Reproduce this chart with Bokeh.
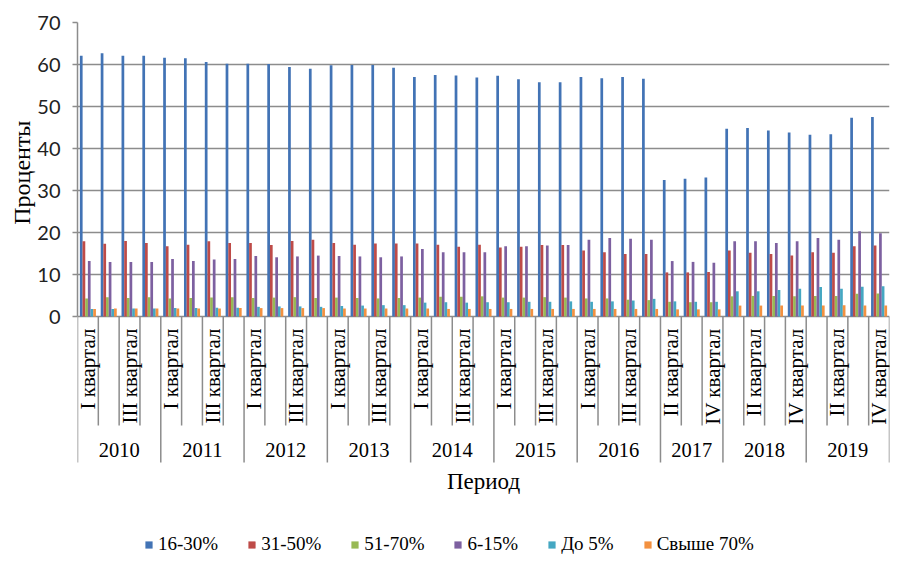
import math
from bokeh.plotting import figure
from bokeh.models import ColumnDataSource, Range1d, FixedTicker, Legend, LegendItem, Title
from bokeh.core.properties import value
from bokeh.transform import dodge
from bokeh.embed import file_html
from bokeh.resources import INLINE

# ---------------- data ----------------
years = ["2010", "2011", "2012", "2013", "2014", "2015", "2016", "2017", "2018", "2019"]
year_quarters = [
    ["I", "II", "III", "IV"], ["I", "II", "III", "IV"], ["I", "II", "III", "IV"],
    ["I", "II", "III", "IV"], ["I", "II", "III", "IV"], ["I", "II", "III", "IV"],
    ["I", "II", "III", "IV"], ["II", "III", "IV"], ["I", "II", "III", "IV"],
    ["I", "II", "III", "IV"],
]
quarter_word = "квартал"

series_names = ["16-30%", "31-50%", "51-70%", "6-15%", "До 5%", "Свыше 70%"]

s16_30 = [62.1, 62.7, 62.1, 62.1, 61.6, 61.5, 60.6, 60.2, 60.2, 60.1, 59.4, 59.0,
          59.8, 59.9, 59.9, 59.2, 57.0, 57.5, 57.4, 56.9, 57.3, 56.5, 55.8, 55.8,
          57.0, 56.7, 57.0, 56.6, 32.5, 32.8, 33.1, 44.7, 44.9, 44.3, 43.8,
          43.3, 43.4, 47.3, 47.5]
s31_50 = [17.9, 17.3, 18.0, 17.5, 16.7, 17.1, 17.9, 17.5, 17.5, 17.0, 18.0, 18.3,
          17.5, 17.1, 17.4, 17.4, 17.4, 17.1, 16.6, 17.1, 16.4, 16.6, 17.0, 17.0,
          15.7, 15.3, 14.9, 14.9, 10.5, 10.5, 10.6, 15.7, 15.2, 14.9, 14.5,
          15.3, 15.2, 16.7, 16.9]
s51_70 = [4.3, 4.6, 4.4, 4.6, 4.3, 4.4, 4.5, 4.6, 4.4, 4.5, 4.6, 4.4,
          4.5, 4.4, 4.3, 4.4, 4.5, 4.7, 4.7, 4.8, 4.5, 4.5, 4.6, 4.5,
          4.3, 4.3, 4.0, 3.9, 3.5, 3.4, 3.4, 4.8, 4.9, 4.9, 4.8,
          4.9, 4.9, 5.4, 5.5]
s6_15 = [13.2, 13.0, 13.0, 13.0, 13.7, 13.2, 13.6, 13.7, 14.4, 14.1, 14.3, 14.5,
         14.4, 14.3, 14.1, 14.3, 16.1, 15.3, 15.3, 15.3, 16.7, 16.7, 16.9, 17.0,
         18.3, 18.7, 18.5, 18.3, 13.2, 13.0, 12.8, 17.9, 17.9, 17.5, 17.9,
         18.7, 18.3, 20.3, 19.8]
s_upto5 = [1.8, 1.8, 1.9, 1.9, 2.0, 2.0, 2.1, 2.1, 2.3, 2.4, 2.4, 2.3,
           2.5, 2.6, 2.7, 2.7, 3.3, 3.4, 3.3, 3.4, 3.4, 3.5, 3.5, 3.6,
           3.5, 3.6, 3.8, 4.2, 3.6, 3.5, 3.5, 6.0, 6.0, 6.3, 6.6,
           7.0, 6.6, 7.1, 7.2]
s_over70 = [1.8, 1.9, 1.9, 1.9, 1.9, 1.9, 1.9, 2.0, 2.0, 2.0, 2.0, 2.0,
            1.9, 1.9, 1.9, 1.9, 1.9, 1.8, 1.8, 1.8, 1.8, 1.8, 1.8, 1.8,
            1.8, 1.8, 1.8, 1.8, 1.7, 1.7, 1.7, 2.6, 2.6, 2.6, 2.6,
            2.6, 2.7, 2.6, 2.6]

y_ticks = [0, 10, 20, 30, 40, 50, 60, 70]
y_title = "Проценты"
x_title = "Период"

# ---------------- styles ----------------
colors = ["#4273B5", "#BE4B48", "#98B954", "#7D60A0", "#45A7C2", "#F39140"]
grid_color = "#8C8C8C"
serif = value("Liberation Serif")

# ---------------- derived categories ----------------
cat_labels = []
for y, qs in zip(years, year_quarters):
    for q in qs:
        cat_labels.append(q + " " + quarter_word)
n = len(cat_labels)
centers = [i + 0.5 for i in range(n)]

src = ColumnDataSource(data=dict(
    x=centers, s1=s16_30, s2=s31_50, s3=s51_70, s4=s6_15, s5=s_upto5, s6=s_over70))

px_per_unit = 4.2
y_top = 70
frame_top = 22
frame_bottom = 556
y_bottom = y_top - (frame_bottom - frame_top) / px_per_unit
base = 316  # screen row of value 0 (for label offsets)

p = figure(width=890, height=frame_bottom,
           x_range=Range1d(0, n), y_range=Range1d(y_bottom, y_top),
           output_backend="svg", toolbar_location=None,
           x_axis_location=None,
           min_border_left=77, min_border_right=1,
           min_border_top=frame_top, min_border_bottom=0)
p.outline_line_color = None
p.background_fill_color = "white"
p.border_fill_color = "white"

# grid
p.ygrid.ticker = FixedTicker(ticks=y_ticks)
p.ygrid.grid_line_color = grid_color
p.ygrid.grid_line_width = 1.6
p.xgrid.grid_line_color = None

# y axis
p.yaxis.ticker = FixedTicker(ticks=y_ticks)
p.yaxis.bounds = (0, 70)
p.yaxis.axis_line_color = grid_color
p.yaxis.axis_line_width = 1.5
p.yaxis.major_tick_line_color = grid_color
p.yaxis.major_tick_line_width = 1.5
p.yaxis.major_tick_out = 5
p.yaxis.major_tick_in = 0
p.yaxis.minor_tick_line_color = None
p.yaxis.major_label_text_font = "Lato"
p.yaxis.major_label_text_font_size = "20px"
p.yaxis.major_label_text_color = "#222222"
p.yaxis.major_label_standoff = 12

# y title in the left panel, placed near the top of the 0..70 span
p.add_layout(Title(text=y_title, align="right", offset=98,
                   text_font="Liberation Serif", text_font_size="24px",
                   text_font_style="normal", text_color="black",
                   standoff=0), "left")

# bars
pitch = 0.128
cols = ["s1", "s2", "s3", "s4", "s5", "s6"]
renderers = []
for k, (c, col) in enumerate(zip(cols, colors)):
    r = p.vbar(x=dodge("x", (k - 2.5) * pitch, range=p.x_range), top=c, bottom=0,
               width=pitch * 1.02, source=src, fill_color=col, line_color=None)
    renderers.append(r)

# category axis lines (below zero)
year_bounds = [0]
for qs in year_quarters:
    year_bounds.append(year_bounds[-1] + len(qs))
quarter_bounds = [b for b in range(n + 1) if b not in year_bounds]
q_line_end = (base - 425) / px_per_unit
y_line_end = (base - 462) / px_per_unit
p.segment(x0=quarter_bounds, y0=[0] * len(quarter_bounds),
          x1=quarter_bounds, y1=[q_line_end] * len(quarter_bounds),
          line_color=grid_color, line_width=1.5)
p.segment(x0=year_bounds, y0=[0] * len(year_bounds),
          x1=year_bounds, y1=[y_line_end] * len(year_bounds),
          line_color=grid_color, line_width=1.5)

# quarter labels (every other category)
lab_x = [centers[i] for i in range(0, n, 2)]
lab_t = [cat_labels[i] for i in range(0, n, 2)]
p.text(x=lab_x, y=[(base - 328) / px_per_unit] * len(lab_x), text=lab_t,
       angle=math.pi / 2, text_align="right", text_baseline="middle",
       text_font=serif, text_font_size="21px", text_color="black")

# year labels
year_centers = [(year_bounds[i] + year_bounds[i + 1]) / 2 for i in range(len(years))]
p.text(x=year_centers, y=[(base - 449) / px_per_unit] * len(years), text=years,
       text_align="center", text_baseline="middle",
       text_font=serif, text_font_size="20.5px", text_color="black")

# x title
p.text(x=[n / 2], y=[(base - 481) / px_per_unit], text=[x_title],
       text_align="center", text_baseline="middle",
       text_font=serif, text_font_size="23px", text_color="black")

# legend
legend = Legend(items=[LegendItem(label=nm, renderers=[r]) for nm, r in zip(series_names, renderers)],
                orientation="horizontal", location=(67, 1))
legend.padding = 0
legend.margin = 0
legend.spacing = 29
legend.glyph_width = 9
legend.glyph_height = 9
legend.label_standoff = 5
legend.label_text_font = "Liberation Serif"
legend.label_text_font_size = "19px"
legend.label_text_color = "black"
legend.border_line_color = None
legend.background_fill_alpha = 0
p.add_layout(legend)

open("out.html", "w").write(file_html(p, INLINE))
